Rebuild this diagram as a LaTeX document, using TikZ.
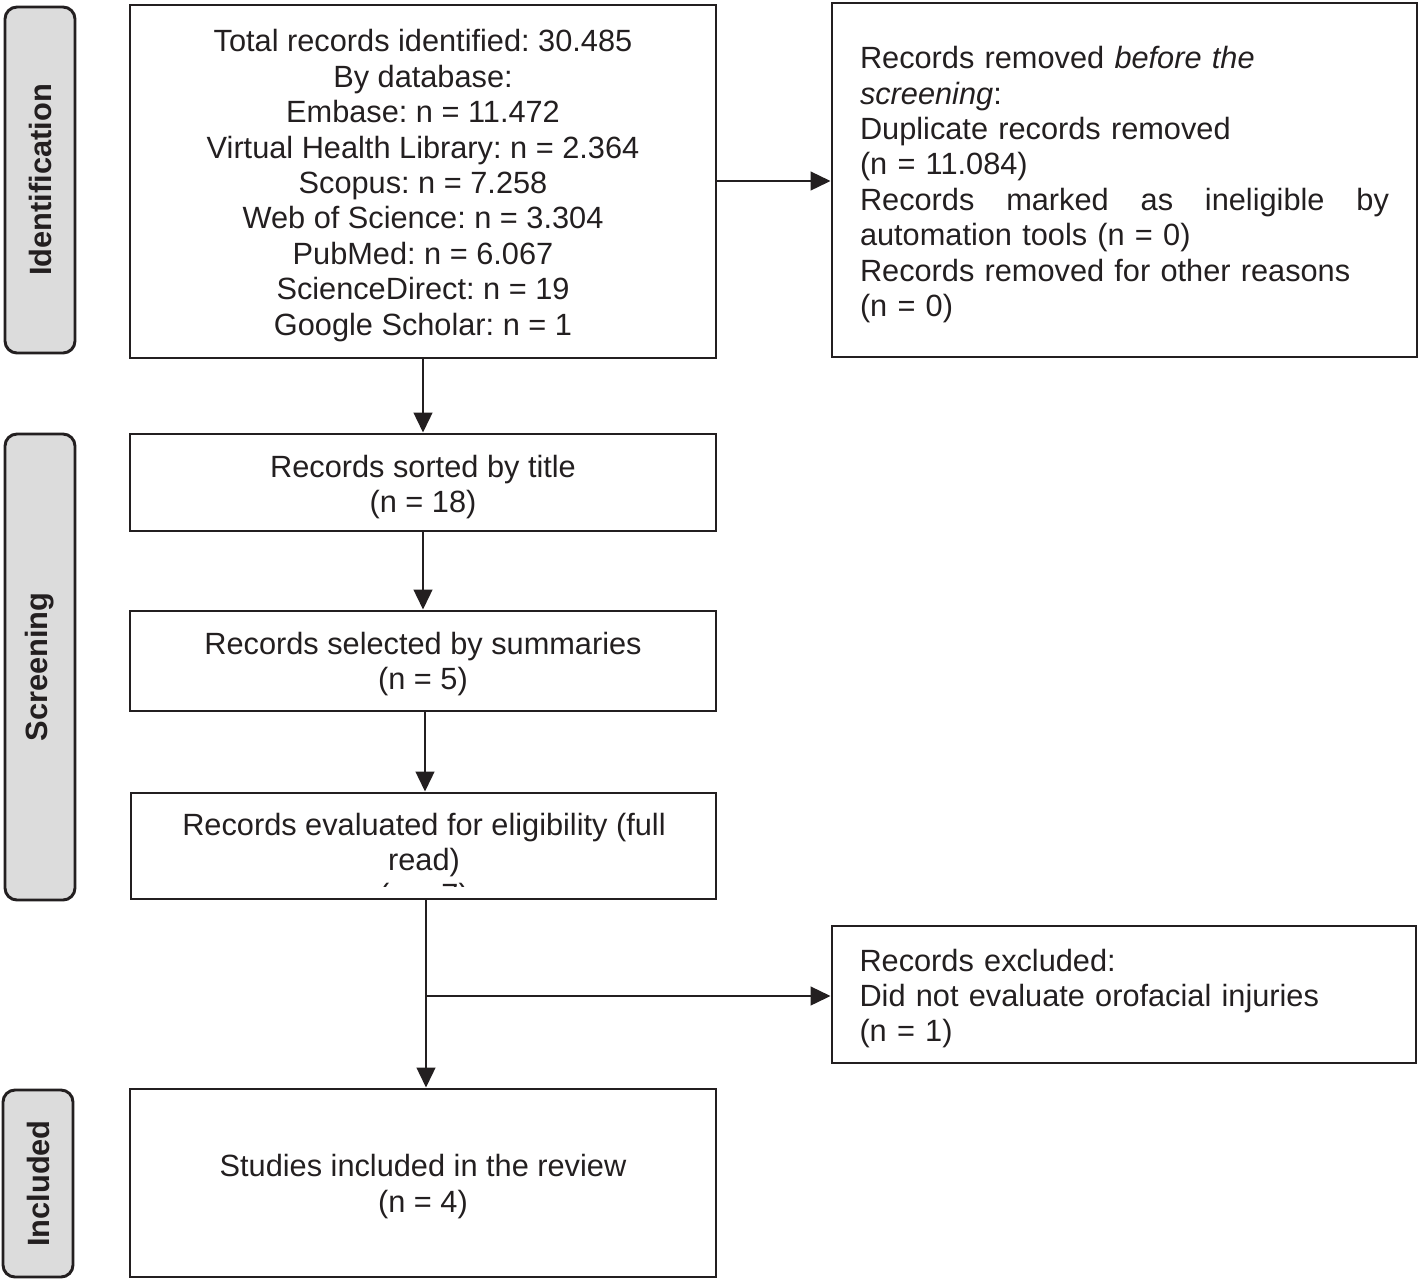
\documentclass[tikz,border=0pt]{standalone}
\usepackage{fontspec}
\setmainfont{Liberation Sans}
\usetikzlibrary{arrows.meta}
\definecolor{ink}{HTML}{231F20}
\definecolor{lab}{HTML}{DCDCDC}
\frenchspacing
\begin{document}
\begin{tikzpicture}[x=0.75pt,y=-0.75pt,
  txt/.style={font=\fontsize{23.05}{26.55}\selectfont\frenchspacing, text=ink, inner sep=0pt, align=center},
  ltxt/.style={txt, align=left, text width=396.75pt},
  box/.style={draw=ink, line width=2.2pt, inner sep=0pt},
  lbox/.style={draw=ink, line width=2.2pt, fill=lab, rounded corners=9pt, inner sep=0pt},
  ltext/.style={font=\fontsize{23.1}{26}\selectfont\bfseries, text=ink, rotate=90},
  arr/.style={draw=ink, line width=1.8pt, -{Triangle[length=15pt,width=14pt]}},
  ln/.style={draw=ink, line width=1.8pt}]
\useasboundingbox (0,0) rectangle (1421,1279);
% phase labels
\node[lbox, minimum width=52.5pt, minimum height=259.5pt] (lid) at (40,180) {};
\node[ltext] (lidt) at (lid.center) {Identification};
\node[lbox, minimum width=52.5pt, minimum height=349.5pt] (lsc) at (40,667) {};
\node[ltext] (lsct) at (lsc.center) {Screening};
\node[lbox, minimum width=52.5pt, minimum height=140.25pt] (lin) at (38,1183.5) {};
\node[ltext] (lint) at (lin.center) {Included};
% boxes
\node[box, minimum width=439.5pt, minimum height=264.75pt] (tot) at (423,181.5) {};
\node[txt, yshift=-3pt] (totT) at (tot.center)
 {Total records identified: 30.485\\By database:\\Embase: n = 11.472\\Virtual Health Library: n = 2.364\\Scopus: n = 7.258\\Web of Science: n = 3.304\\PubMed: n = 6.067\\ScienceDirect: n = 19\\Google Scholar: n = 1};
\node[box, minimum width=438.75pt, minimum height=265.5pt] (rem) at (1124.5,180) {};
\node[ltxt, yshift=-3.5pt] (remT) at (rem.center)
 {Records removed \textit{before the}\\\textit{screening}:\\Duplicate records removed\\(n = 11.084)\\Records\hfill marked\hfill as\hfill ineligible\hfill by\\automation tools (n = 0)\\Records removed for other reasons\\(n = 0)};
\node[box, minimum width=439.5pt, minimum height=72.75pt] (sort) at (423,482.5) {};
\node[txt, yshift=-3.5pt] (sortT) at (sort.center) {Records sorted by title\\(n = 18)};
\node[box, minimum width=439.5pt, minimum height=75pt] (sel) at (423,661) {};
\node[txt, yshift=-2.5pt] (selT) at (sel.center) {Records selected by summaries\\(n = 5)};
\node[box, minimum width=438.75pt, minimum height=79.5pt] (elig) at (423.5,846) {};
\begin{scope}
\clip (135,796) rectangle (712,886.5);
\node[txt] (eligT) at (424,862.5) {Records evaluated for eligibility (full\\read)\\(n = 7)};
\end{scope}
\node[box, minimum width=438pt, minimum height=102.75pt] (exc) at (1124,994.5) {};
\node[ltxt, yshift=-3pt] (excT) at (exc.center) {Records excluded:\\Did not evaluate orofacial injuries\\(n = 1)};
\node[box, minimum width=439.5pt, minimum height=141pt] (inc) at (423,1183) {};
\node[txt, yshift=-2.5pt] (incT) at (inc.center) {Studies included in the review\\(n = 4)};
% connectors
\draw[arr] (tot.south) -- (sort.north);
\draw[arr] (tot.east |- 0,181) -- (rem.west |- 0,181);
\draw[arr] (sort.south) -- (sel.north);
\draw[arr] (sel.south -| 425,0) -- (elig.north -| 425,0);
\coordinate (br) at (426,996);
\draw[ln] (elig.south -| br) -- (br);
\draw[arr] (br) -- (inc.north -| br);
\draw[arr] (br) -- (br -| exc.west);
\end{tikzpicture}
\end{document}
